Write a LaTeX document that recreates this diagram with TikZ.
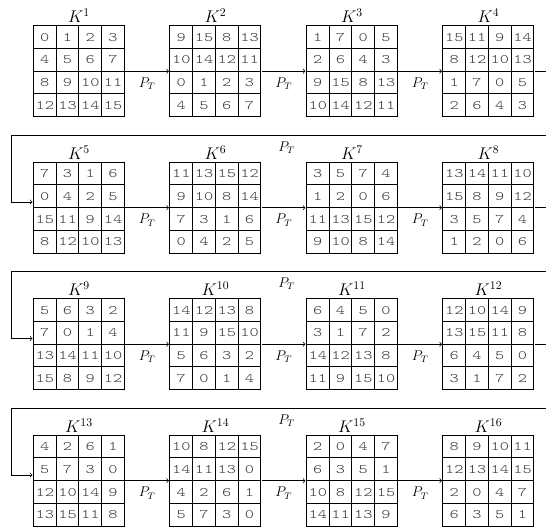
\documentclass[tikz,border=0pt]{standalone}
\usepackage{fontspec}
\newfontfamily\cellfont{lmmonolt10-regular.otf}[FakeStretch=1.35]
\usetikzlibrary{matrix, positioning}

\begin{document}
\begin{tikzpicture}[
  x=0.68cm, y=0.68cm,
  %% ─── 樣式定義 ────────────────────────────────────────────────
  cell/.style={
    draw=black, thick, minimum size=0.68cm, inner sep=0pt, anchor=center,
    text height=1.6ex, text depth=0pt, text=black!80,
    font=\cellfont\fontsize{11}{13}\selectfont
  },
  keygrid/.style={
    matrix of nodes, nodes={cell}, inner sep=0pt, thick,
    column sep=-\pgflinewidth, row sep=-\pgflinewidth
  },
  klabel/.style={font=\Large, inner sep=1.5pt},
  plabel/.style={font=\large, below=2pt},
  link/.style={->, semithick}
]

  \useasboundingbox (0,0) rectangle (24,-23.16);
  \clip (0,0) rectangle (24,-23.16);

  %% ─── 1. 第一列 K^1 ~ K^4 (Y=-3.13) ───────────────────────────
  \matrix[keygrid, label={[klabel]above:$K^{1}$}] (K1) at (3.47,-3.13) {
    0 & 1 & 2 & 3 \\
    4 & 5 & 6 & 7 \\
    8 & 9 & 10 & 11 \\
    12 & 13 & 14 & 15 \\
  };
  \matrix[keygrid, label={[klabel]above:$K^{2}$}] (K2) at (9.47,-3.13) {
    9 & 15 & 8 & 13 \\
    10 & 14 & 12 & 11 \\
    0 & 1 & 2 & 3 \\
    4 & 5 & 6 & 7 \\
  };
  \matrix[keygrid, label={[klabel]above:$K^{3}$}] (K3) at (15.47,-3.13) {
    1 & 7 & 0 & 5 \\
    2 & 6 & 4 & 3 \\
    9 & 15 & 8 & 13 \\
    10 & 14 & 12 & 11 \\
  };
  \matrix[keygrid, label={[klabel]above:$K^{4}$}] (K4) at (21.47,-3.13) {
    15 & 11 & 9 & 14 \\
    8 & 12 & 10 & 13 \\
    1 & 7 & 0 & 5 \\
    2 & 6 & 4 & 3 \\
  };

  %% ─── 2. 第二列 K^5 ~ K^8 (Y=-9.13) ───────────────────────────
  \matrix[keygrid, label={[klabel]above:$K^{5}$}] (K5) at (3.47,-9.13) {
    7 & 3 & 1 & 6 \\
    0 & 4 & 2 & 5 \\
    15 & 11 & 9 & 14 \\
    8 & 12 & 10 & 13 \\
  };
  \matrix[keygrid, label={[klabel]above:$K^{6}$}] (K6) at (9.47,-9.13) {
    11 & 13 & 15 & 12 \\
    9 & 10 & 8 & 14 \\
    7 & 3 & 1 & 6 \\
    0 & 4 & 2 & 5 \\
  };
  \matrix[keygrid, label={[klabel]above:$K^{7}$}] (K7) at (15.47,-9.13) {
    3 & 5 & 7 & 4 \\
    1 & 2 & 0 & 6 \\
    11 & 13 & 15 & 12 \\
    9 & 10 & 8 & 14 \\
  };
  \matrix[keygrid, label={[klabel]above:$K^{8}$}] (K8) at (21.47,-9.13) {
    13 & 14 & 11 & 10 \\
    15 & 8 & 9 & 12 \\
    3 & 5 & 7 & 4 \\
    1 & 2 & 0 & 6 \\
  };

  %% ─── 3. 第三列 K^9 ~ K^12 (Y=-15.13) ─────────────────────────
  \matrix[keygrid, label={[klabel]above:$K^{9}$}] (K9) at (3.47,-15.13) {
    5 & 6 & 3 & 2 \\
    7 & 0 & 1 & 4 \\
    13 & 14 & 11 & 10 \\
    15 & 8 & 9 & 12 \\
  };
  \matrix[keygrid, label={[klabel]above:$K^{10}$}] (K10) at (9.47,-15.13) {
    14 & 12 & 13 & 8 \\
    11 & 9 & 15 & 10 \\
    5 & 6 & 3 & 2 \\
    7 & 0 & 1 & 4 \\
  };
  \matrix[keygrid, label={[klabel]above:$K^{11}$}] (K11) at (15.47,-15.13) {
    6 & 4 & 5 & 0 \\
    3 & 1 & 7 & 2 \\
    14 & 12 & 13 & 8 \\
    11 & 9 & 15 & 10 \\
  };
  \matrix[keygrid, label={[klabel]above:$K^{12}$}] (K12) at (21.47,-15.13) {
    12 & 10 & 14 & 9 \\
    13 & 15 & 11 & 8 \\
    6 & 4 & 5 & 0 \\
    3 & 1 & 7 & 2 \\
  };

  %% ─── 4. 第四列 K^13 ~ K^16 (Y=-21.13) ────────────────────────
  \matrix[keygrid, label={[klabel]above:$K^{13}$}] (K13) at (3.47,-21.13) {
    4 & 2 & 6 & 1 \\
    5 & 7 & 3 & 0 \\
    12 & 10 & 14 & 9 \\
    13 & 15 & 11 & 8 \\
  };
  \matrix[keygrid, label={[klabel]above:$K^{14}$}] (K14) at (9.47,-21.13) {
    10 & 8 & 12 & 15 \\
    14 & 11 & 13 & 0 \\
    4 & 2 & 6 & 1 \\
    5 & 7 & 3 & 0 \\
  };
  \matrix[keygrid, label={[klabel]above:$K^{15}$}] (K15) at (15.47,-21.13) {
    2 & 0 & 4 & 7 \\
    6 & 3 & 5 & 1 \\
    10 & 8 & 12 & 15 \\
    14 & 11 & 13 & 9 \\
  };
  \matrix[keygrid, label={[klabel]above:$K^{16}$}] (K16) at (21.47,-21.13) {
    8 & 9 & 10 & 11 \\
    12 & 13 & 14 & 15 \\
    2 & 0 & 4 & 7 \\
    6 & 3 & 5 & 1 \\
  };

  %% ─── 5. 列內 P_T 連線 ────────────────────────────────────────
  \draw[link] (K1.east) -- node[plabel] {$P_T$} (K2.west);
  \draw[link] (K2.east) -- node[plabel] {$P_T$} (K3.west);
  \draw[link] (K3.east) -- node[plabel] {$P_T$} (K4.west);

  \draw[link] (K5.east) -- node[plabel] {$P_T$} (K6.west);
  \draw[link] (K6.east) -- node[plabel] {$P_T$} (K7.west);
  \draw[link] (K7.east) -- node[plabel] {$P_T$} (K8.west);

  \draw[link] (K9.east) -- node[plabel] {$P_T$} (K10.west);
  \draw[link] (K10.east) -- node[plabel] {$P_T$} (K11.west);
  \draw[link] (K11.east) -- node[plabel] {$P_T$} (K12.west);

  \draw[link] (K13.east) -- node[plabel] {$P_T$} (K14.west);
  \draw[link] (K14.east) -- node[plabel] {$P_T$} (K15.west);
  \draw[link] (K15.east) -- node[plabel] {$P_T$} (K16.west);

  %% ─── 6. 換列回繞連線 (右端被裁切) ───────────────────────────
  \coordinate (R1) at (24.7,-5.93);
  \coordinate (L1) at (0.5,-5.93);
  \coordinate (R2) at (24.7,-11.93);
  \coordinate (L2) at (0.5,-11.93);
  \coordinate (R3) at (24.7,-17.93);
  \coordinate (L3) at (0.5,-17.93);

  \draw[link] (K4.east) -| (R1) -- node[plabel] {$P_T$} (L1) |- ([yshift=0.17cm]K5.west);
  \draw[link] (K8.east) -| (R2) -- node[plabel] {$P_T$} (L2) |- ([yshift=0.17cm]K9.west);
  \draw[link] (K12.east) -| (R3) -- node[plabel] {$P_T$} (L3) |- ([yshift=0.17cm]K13.west);

\end{tikzpicture}
\end{document}
